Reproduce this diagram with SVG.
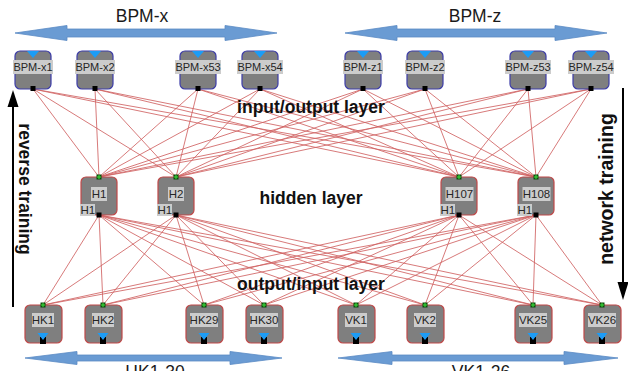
<svg xmlns="http://www.w3.org/2000/svg" width="628" height="371" viewBox="0 0 628 371">
  <style>
    .bg { fill: #ffffff; }
    .band { fill: #6a9bd3; stroke: #5a8ac4; stroke-width: 0.8; }
    .title { font-family: "Liberation Sans", Arial, sans-serif; font-size: 17.5px; fill: #1a1a1a; text-anchor: middle; }
    .layer { font-family: "Liberation Sans", Arial, sans-serif; font-size: 17.5px; font-weight: bold; fill: #111111; text-anchor: middle; }
    .wire { fill: none; stroke: #d06262; stroke-width: 0.85; }
    .box-io { fill: #7f7f7f; stroke: #3c3ca8; stroke-width: 1.2; }
    .box-h { fill: #7f7f7f; stroke: #c04848; stroke-width: 1.2; }
    .lbl { fill: #cccccc; }
    .lt { font-family: "Liberation Sans", Arial, sans-serif; font-size: 11.5px; fill: #262626; text-anchor: middle; }
    .lt-s { font-family: "Liberation Sans", Arial, sans-serif; font-size: 11px; fill: #262626; text-anchor: middle; }
    .lt-l { font-family: "Liberation Sans", Arial, sans-serif; font-size: 11.5px; fill: #262626; text-anchor: start; }
    .tri { fill: #1c9cf6; }
    .port { fill: #000000; }
    .gport { fill: #0b4d0b; }
    .gplus { fill: none; stroke: #3ee23e; stroke-width: 1; }
    .axis { stroke: #000000; stroke-width: 2; fill: none; }
    .head { fill: #000000; }
  </style>

  <rect class="bg" x="0" y="0" width="628" height="371"/>

  <!-- range bands with titles -->
  <g id="band-bpm-x">
    <path class="band" d="M15 33L67 25.5V29H225V25.5L277 33L225 40.5V37H67V40.5Z"/>
    <text class="title" x="142" y="22">BPM-x</text>
  </g>
  <g id="band-bpm-z">
    <path class="band" d="M345 33L397 25.5V29H555V25.5L607 33L555 40.5V37H397V40.5Z"/>
    <text class="title" x="475" y="22">BPM-z</text>
  </g>
  <g id="band-hk">
    <path class="band" d="M25 358L77 351.5V355H230V351.5L282 358L230 364.5V361H77V364.5Z"/>
    <text class="title" x="155" y="378">HK1-30</text>
  </g>
  <g id="band-vk">
    <path class="band" d="M338 358L392 351.5V355H564V351.5L618 358L564 364.5V361H392V364.5Z"/>
    <text class="title" x="481" y="378">VK1-26</text>
  </g>

  <!-- training direction arrows -->
  <g id="reverse-training">
    <line class="axis" x1="13" y1="307" x2="13" y2="104"/>
    <path class="head" d="M13 90L18.5 107H7.5Z"/>
    <text class="layer" transform="translate(19,189) rotate(90)">reverse training</text>
  </g>
  <g id="network-training">
    <line class="axis" x1="623" y1="88" x2="623" y2="284"/>
    <path class="head" d="M623 300L617.5 282H628.5Z"/>
    <text class="layer" style="font-size:19.5px" transform="translate(613,189) rotate(-90)">network training</text>
  </g>

  <!-- connectors -->
  <g id="connectors">
    <!-- input/output layer to hidden layer -->
    <path class="wire" d="M33 89L99 177M33 89L176 177M33 89L459 177M33 89L536 177"/>
    <path class="wire" d="M95 89L99 177M95 89L176 177M95 89L459 177M95 89L536 177"/>
    <path class="wire" d="M198 89L99 177M198 89L176 177M198 89L459 177M198 89L536 177"/>
    <path class="wire" d="M260 89L99 177M260 89L176 177M260 89L459 177M260 89L536 177"/>
    <path class="wire" d="M363 89L99 177M363 89L176 177M363 89L459 177M363 89L536 177"/>
    <path class="wire" d="M425 89L99 177M425 89L176 177M425 89L459 177M425 89L536 177"/>
    <path class="wire" d="M528 89L99 177M528 89L176 177M528 89L459 177M528 89L536 177"/>
    <path class="wire" d="M591 89L99 177M591 89L176 177M591 89L459 177M591 89L536 177"/>
    <!-- hidden layer to output/input layer -->
    <path class="wire" d="M99 215L43 305M99 215L103 305M99 215L204 305M99 215L264 305M99 215L356 305M99 215L425 305M99 215L533 305M99 215L602 305"/>
    <path class="wire" d="M176 215L43 305M176 215L103 305M176 215L204 305M176 215L264 305M176 215L356 305M176 215L425 305M176 215L533 305M176 215L602 305"/>
    <path class="wire" d="M459 215L43 305M459 215L103 305M459 215L204 305M459 215L264 305M459 215L356 305M459 215L425 305M459 215L533 305M459 215L602 305"/>
    <path class="wire" d="M536 215L43 305M536 215L103 305M536 215L204 305M536 215L264 305M536 215L356 305M536 215L425 305M536 215L533 305M536 215L602 305"/>
  </g>

  <!-- layer captions -->
  <text class="layer" x="311" y="113">input/output layer</text>
  <text class="layer" x="311" y="204">hidden layer</text>
  <text class="layer" x="311" y="290">output/input layer</text>

  <!-- input/output layer nodes -->
  <g id="bpm-x1" transform="translate(33,0)">
    <rect class="box-io" x="-18" y="51" width="36" height="38" rx="5"/>
    <path class="tri" d="M-6 51H6L0 58Z"/>
    <rect class="lbl" x="-20" y="60" width="40" height="14"/>
    <text class="lt-s" x="0" y="71">BPM-x1</text>
    <rect class="port" x="-2.5" y="86" width="5" height="5"/>
  </g>
  <g id="bpm-x2" transform="translate(95,0)">
    <rect class="box-io" x="-18" y="51" width="36" height="38" rx="5"/>
    <path class="tri" d="M-6 51H6L0 58Z"/>
    <rect class="lbl" x="-20" y="60" width="40" height="14"/>
    <text class="lt-s" x="0" y="71">BPM-x2</text>
    <rect class="port" x="-2.5" y="86" width="5" height="5"/>
  </g>
  <g id="bpm-x53" transform="translate(198,0)">
    <rect class="box-io" x="-18" y="51" width="36" height="38" rx="5"/>
    <path class="tri" d="M-6 51H6L0 58Z"/>
    <rect class="lbl" x="-23" y="60" width="46" height="14"/>
    <text class="lt-s" x="0" y="71">BPM-x53</text>
    <rect class="port" x="-2.5" y="86" width="5" height="5"/>
  </g>
  <g id="bpm-x54" transform="translate(260,0)">
    <rect class="box-io" x="-18" y="51" width="36" height="38" rx="5"/>
    <path class="tri" d="M-6 51H6L0 58Z"/>
    <rect class="lbl" x="-23" y="60" width="46" height="14"/>
    <text class="lt-s" x="0" y="71">BPM-x54</text>
    <rect class="port" x="-2.5" y="86" width="5" height="5"/>
  </g>
  <g id="bpm-z1" transform="translate(363,0)">
    <rect class="box-io" x="-18" y="51" width="36" height="38" rx="5"/>
    <path class="tri" d="M-6 51H6L0 58Z"/>
    <rect class="lbl" x="-20" y="60" width="40" height="14"/>
    <text class="lt-s" x="0" y="71">BPM-z1</text>
    <rect class="port" x="-2.5" y="86" width="5" height="5"/>
  </g>
  <g id="bpm-z2" transform="translate(425,0)">
    <rect class="box-io" x="-18" y="51" width="36" height="38" rx="5"/>
    <path class="tri" d="M-6 51H6L0 58Z"/>
    <rect class="lbl" x="-20" y="60" width="40" height="14"/>
    <text class="lt-s" x="0" y="71">BPM-z2</text>
    <rect class="port" x="-2.5" y="86" width="5" height="5"/>
  </g>
  <g id="bpm-z53" transform="translate(528,0)">
    <rect class="box-io" x="-18" y="51" width="36" height="38" rx="5"/>
    <path class="tri" d="M-6 51H6L0 58Z"/>
    <rect class="lbl" x="-23" y="60" width="46" height="14"/>
    <text class="lt-s" x="0" y="71">BPM-z53</text>
    <rect class="port" x="-2.5" y="86" width="5" height="5"/>
  </g>
  <g id="bpm-z54" transform="translate(591,0)">
    <rect class="box-io" x="-18" y="51" width="36" height="38" rx="5"/>
    <path class="tri" d="M-6 51H6L0 58Z"/>
    <rect class="lbl" x="-23" y="60" width="46" height="14"/>
    <text class="lt-s" x="0" y="71">BPM-z54</text>
    <rect class="port" x="-2.5" y="86" width="5" height="5"/>
  </g>

  <!-- hidden layer nodes -->
  <g id="h1" transform="translate(99,0)">
    <rect class="box-h" x="-18" y="177" width="36" height="38" rx="5"/>
    <rect class="lbl" x="-8" y="187" width="16" height="14"/>
    <text class="lt" x="0" y="198">H1</text>
    <rect class="lbl" x="-19" y="204" width="15" height="12"/>
    <text class="lt-l" x="-18.5" y="214">H1</text>
    <rect class="gport" x="-2.5" y="174.5" width="5" height="5"/>
    <path class="gplus" d="M-2 177H2M0 175V179"/>
    <rect class="port" x="-2.5" y="212.5" width="5" height="5"/>
  </g>
  <g id="h2" transform="translate(176,0)">
    <rect class="box-h" x="-18" y="177" width="36" height="38" rx="5"/>
    <rect class="lbl" x="-8" y="187" width="16" height="14"/>
    <text class="lt" x="0" y="198">H2</text>
    <rect class="lbl" x="-19" y="204" width="15" height="12"/>
    <text class="lt-l" x="-18.5" y="214">H1</text>
    <rect class="gport" x="-2.5" y="174.5" width="5" height="5"/>
    <path class="gplus" d="M-2 177H2M0 175V179"/>
    <rect class="port" x="-2.5" y="212.5" width="5" height="5"/>
  </g>
  <g id="h107" transform="translate(459,0)">
    <rect class="box-h" x="-18" y="177" width="36" height="38" rx="5"/>
    <rect class="lbl" x="-13.5" y="187" width="28" height="14"/>
    <text class="lt" x="0.5" y="198">H107</text>
    <rect class="lbl" x="-19" y="204" width="15" height="12"/>
    <text class="lt-l" x="-18.5" y="214">H1</text>
    <rect class="gport" x="-2.5" y="174.5" width="5" height="5"/>
    <path class="gplus" d="M-2 177H2M0 175V179"/>
    <rect class="port" x="-2.5" y="212.5" width="5" height="5"/>
  </g>
  <g id="h108" transform="translate(536,0)">
    <rect class="box-h" x="-18" y="177" width="36" height="38" rx="5"/>
    <rect class="lbl" x="-13.5" y="187" width="28" height="14"/>
    <text class="lt" x="0.5" y="198">H108</text>
    <rect class="lbl" x="-19" y="204" width="15" height="12"/>
    <text class="lt-l" x="-18.5" y="214">H1</text>
    <rect class="gport" x="-2.5" y="174.5" width="5" height="5"/>
    <path class="gplus" d="M-2 177H2M0 175V179"/>
    <rect class="port" x="-2.5" y="212.5" width="5" height="5"/>
  </g>

  <!-- output/input layer nodes -->
  <g id="hk1" transform="translate(43,0)">
    <rect class="box-h" x="-18" y="305" width="37" height="38" rx="5"/>
    <rect class="lbl" x="-11" y="313" width="22" height="14"/>
    <text class="lt" x="0" y="324">HK1</text>
    <rect class="port" x="-3" y="337" width="6" height="7"/>
    <path class="tri" d="M-5.5 333H5.5L0 340Z"/>
    <rect class="gport" x="-2.5" y="302.5" width="5" height="5"/>
    <path class="gplus" d="M-2 305H2M0 303V307"/>
  </g>
  <g id="hk2" transform="translate(103,0)">
    <rect class="box-h" x="-18" y="305" width="37" height="38" rx="5"/>
    <rect class="lbl" x="-11" y="313" width="22" height="14"/>
    <text class="lt" x="0" y="324">HK2</text>
    <rect class="port" x="-3" y="337" width="6" height="7"/>
    <path class="tri" d="M-5.5 333H5.5L0 340Z"/>
    <rect class="gport" x="-2.5" y="302.5" width="5" height="5"/>
    <path class="gplus" d="M-2 305H2M0 303V307"/>
  </g>
  <g id="hk29" transform="translate(204,0)">
    <rect class="box-h" x="-18" y="305" width="37" height="38" rx="5"/>
    <rect class="lbl" x="-14" y="313" width="28" height="14"/>
    <text class="lt" x="0" y="324">HK29</text>
    <rect class="port" x="-3" y="337" width="6" height="7"/>
    <path class="tri" d="M-5.5 333H5.5L0 340Z"/>
    <rect class="gport" x="-2.5" y="302.5" width="5" height="5"/>
    <path class="gplus" d="M-2 305H2M0 303V307"/>
  </g>
  <g id="hk30" transform="translate(264,0)">
    <rect class="box-h" x="-18" y="305" width="37" height="38" rx="5"/>
    <rect class="lbl" x="-14" y="313" width="28" height="14"/>
    <text class="lt" x="0" y="324">HK30</text>
    <rect class="port" x="-3" y="337" width="6" height="7"/>
    <path class="tri" d="M-5.5 333H5.5L0 340Z"/>
    <rect class="gport" x="-2.5" y="302.5" width="5" height="5"/>
    <path class="gplus" d="M-2 305H2M0 303V307"/>
  </g>
  <g id="vk1" transform="translate(356,0)">
    <rect class="box-h" x="-18" y="305" width="37" height="38" rx="5"/>
    <rect class="lbl" x="-11" y="313" width="22" height="14"/>
    <text class="lt" x="0" y="324">VK1</text>
    <rect class="port" x="-3" y="337" width="6" height="7"/>
    <path class="tri" d="M-5.5 333H5.5L0 340Z"/>
    <rect class="gport" x="-2.5" y="302.5" width="5" height="5"/>
    <path class="gplus" d="M-2 305H2M0 303V307"/>
  </g>
  <g id="vk2" transform="translate(425,0)">
    <rect class="box-h" x="-18" y="305" width="37" height="38" rx="5"/>
    <rect class="lbl" x="-11" y="313" width="22" height="14"/>
    <text class="lt" x="0" y="324">VK2</text>
    <rect class="port" x="-3" y="337" width="6" height="7"/>
    <path class="tri" d="M-5.5 333H5.5L0 340Z"/>
    <rect class="gport" x="-2.5" y="302.5" width="5" height="5"/>
    <path class="gplus" d="M-2 305H2M0 303V307"/>
  </g>
  <g id="vk25" transform="translate(533,0)">
    <rect class="box-h" x="-18" y="305" width="37" height="38" rx="5"/>
    <rect class="lbl" x="-14" y="313" width="28" height="14"/>
    <text class="lt" x="0" y="324">VK25</text>
    <rect class="port" x="-3" y="337" width="6" height="7"/>
    <path class="tri" d="M-5.5 333H5.5L0 340Z"/>
    <rect class="gport" x="-2.5" y="302.5" width="5" height="5"/>
    <path class="gplus" d="M-2 305H2M0 303V307"/>
  </g>
  <g id="vk26" transform="translate(602,0)">
    <rect class="box-h" x="-18" y="305" width="37" height="38" rx="5"/>
    <rect class="lbl" x="-14" y="313" width="28" height="14"/>
    <text class="lt" x="0" y="324">VK26</text>
    <rect class="port" x="-3" y="337" width="6" height="7"/>
    <path class="tri" d="M-5.5 333H5.5L0 340Z"/>
    <rect class="gport" x="-2.5" y="302.5" width="5" height="5"/>
    <path class="gplus" d="M-2 305H2M0 303V307"/>
  </g>
</svg>
